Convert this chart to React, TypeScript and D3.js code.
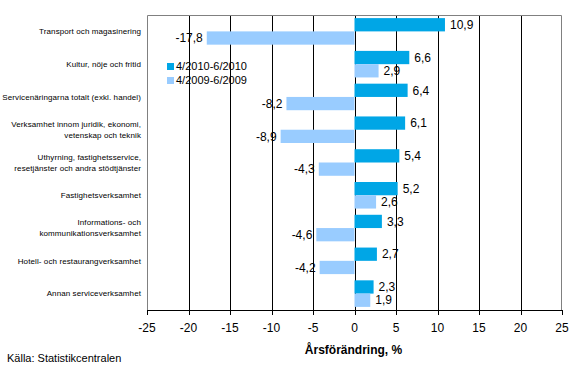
import React from 'react'
import * as d3 from 'd3'

// data
const categories = [
  ['Transport och magasinering'],
  ['Kultur, nöje och fritid'],
  ['Servicenäringarna totalt (exkl. handel)'],
  ['Verksamhet innom juridik, ekonomi,', 'vetenskap och teknik'],
  ['Uthyrning, fastighetsservice,', 'resetjänster och andra stödtjänster'],
  ['Fastighetsverksamhet'],
  ['Informations- och', 'kommunikationsverksamhet'],
  ['Hotell- och restaurangverksamhet'],
  ['Annan serviceverksamhet'],
]
const series2010 = [10.9, 6.6, 6.4, 6.1, 5.4, 5.2, 3.3, 2.7, 2.3]
const series2009 = [-17.8, 2.9, -8.2, -8.9, -4.3, 2.6, -4.6, -4.2, 1.9]
const seriesNames = ['4/2010-6/2010', '4/2009-6/2009']
const ticks = [-25, -20, -15, -10, -5, 0, 5, 10, 15, 20, 25]

const colors = ['#00a6e6', '#99ccff']
const font = 'Liberation Sans, Arial, sans-serif'

const App = () => {
  const margin = {top: 15, right: 16, bottom: 74, left: 147}
  const W = 578, H = 384
  const x0 = margin.left, x1 = W - margin.right
  const y0 = margin.top, y1 = H - margin.bottom

  const x = d3.scaleLinear().domain([-25, 25]).range([x0, x1])
  const y = d3.scaleBand<number>()
    .domain(d3.range(categories.length))
    .range([y0, y1])
    .paddingInner(0.19)
    .paddingOuter(0.095)
  const sub = d3.scaleBand<number>().domain([0, 1]).range([0, y.bandwidth()])

  const fmt = (v: number) => String(v).replace('.', ',')
  const allSeries = [series2010, series2009]

  return (
    <svg width={W} height={H} style={{position: 'absolute', left: 0, top: 0}}>
      <rect x={0} y={0} width={W} height={H} fill="#fff" />
      {/* gridlines */}
      {ticks.filter(t => t > -25 && t < 25).map(t => (
        <line key={t} x1={Math.round(x(t)) + 0.5} x2={Math.round(x(t)) + 0.5}
          y1={y0} y2={y1} stroke="#000" strokeWidth={1} />
      ))}
      {/* bars */}
      {allSeries.map((s, si) => s.map((v, i) => {
        const by = (y(i) as number) + (sub(si) as number)
        const bx = Math.min(x(0), x(v))
        return (
          <rect key={si + '-' + i} x={bx} y={by} width={Math.abs(x(v) - x(0))}
            height={sub.bandwidth()} fill={colors[si]} />
        )
      }))}
      {/* value labels */}
      {allSeries.map((s, si) => s.map((v, i) => {
        const cy = (y(i) as number) + (sub(si) as number) + sub.bandwidth() / 2
        return (
          <text key={'l' + si + '-' + i} x={v >= 0 ? x(v) + 5 : x(v) - 4} y={cy}
            dy="0.35em" textAnchor={v >= 0 ? 'start' : 'end'}
            fontFamily={font} fontSize={12} fill="#000">{fmt(v)}</text>
        )
      }))}
      {/* frame */}
      <polyline points={`${x0 + 0.5},${y1} ${x0 + 0.5},${y0 + 0.5} ${x1 - 0.5},${y0 + 0.5} ${x1 - 0.5},${y1}`}
        fill="none" stroke="#808080" strokeWidth={1} />
      {/* x axis */}
      <line x1={x0} x2={x1} y1={y1 + 0.5} y2={y1 + 0.5} stroke="#000" />
      {ticks.map(t => (
        <g key={'t' + t}>
          <line x1={Math.round(x(t)) + 0.5} x2={Math.round(x(t)) + 0.5} y1={y1} y2={y1 + 5} stroke="#000" />
          <text x={x(t)} y={y1 + 18} dy="0.35em" textAnchor="middle"
            fontFamily={font} fontSize={12} fill="#000">{t}</text>
        </g>
      ))}
      <text x={x(0) - 1} y={y1 + 40} dy="0.35em" textAnchor="middle"
        fontFamily={font} fontSize={12} fontWeight="bold" fill="#000">Årsförändring, %</text>
      {/* category labels */}
      {categories.map((lines, i) => {
        const cy = (y(i) as number) + y.bandwidth() / 2
        return (
          <text key={'c' + i} textAnchor="end" fontFamily={font} fontSize={8}
            fill="#000" style={{letterSpacing: '0.1px'}}>
            {lines.map((ln, j) => (
              <tspan key={j} x={x0 - 6} y={cy + (j - (lines.length - 1) / 2) * 11} dy="0.35em">{ln}</tspan>
            ))}
          </text>
        )
      })}
      {/* legend */}
      {seriesNames.map((n, i) => (
        <g key={'lg' + i} transform={`translate(167,${63 + i * 14})`}>
          <rect x={0} y={0} width={7} height={7} fill={colors[i]} />
          <text x={9} y={3.5} dy="0.35em" fontFamily={font} fontSize={11} fill="#000">{n}</text>
        </g>
      ))}
      <text x={7} y={358} dy="0.35em" fontFamily={font} fontSize={11} fill="#000">Källa: Statistikcentralen</text>
    </svg>
  )
}

export default App
